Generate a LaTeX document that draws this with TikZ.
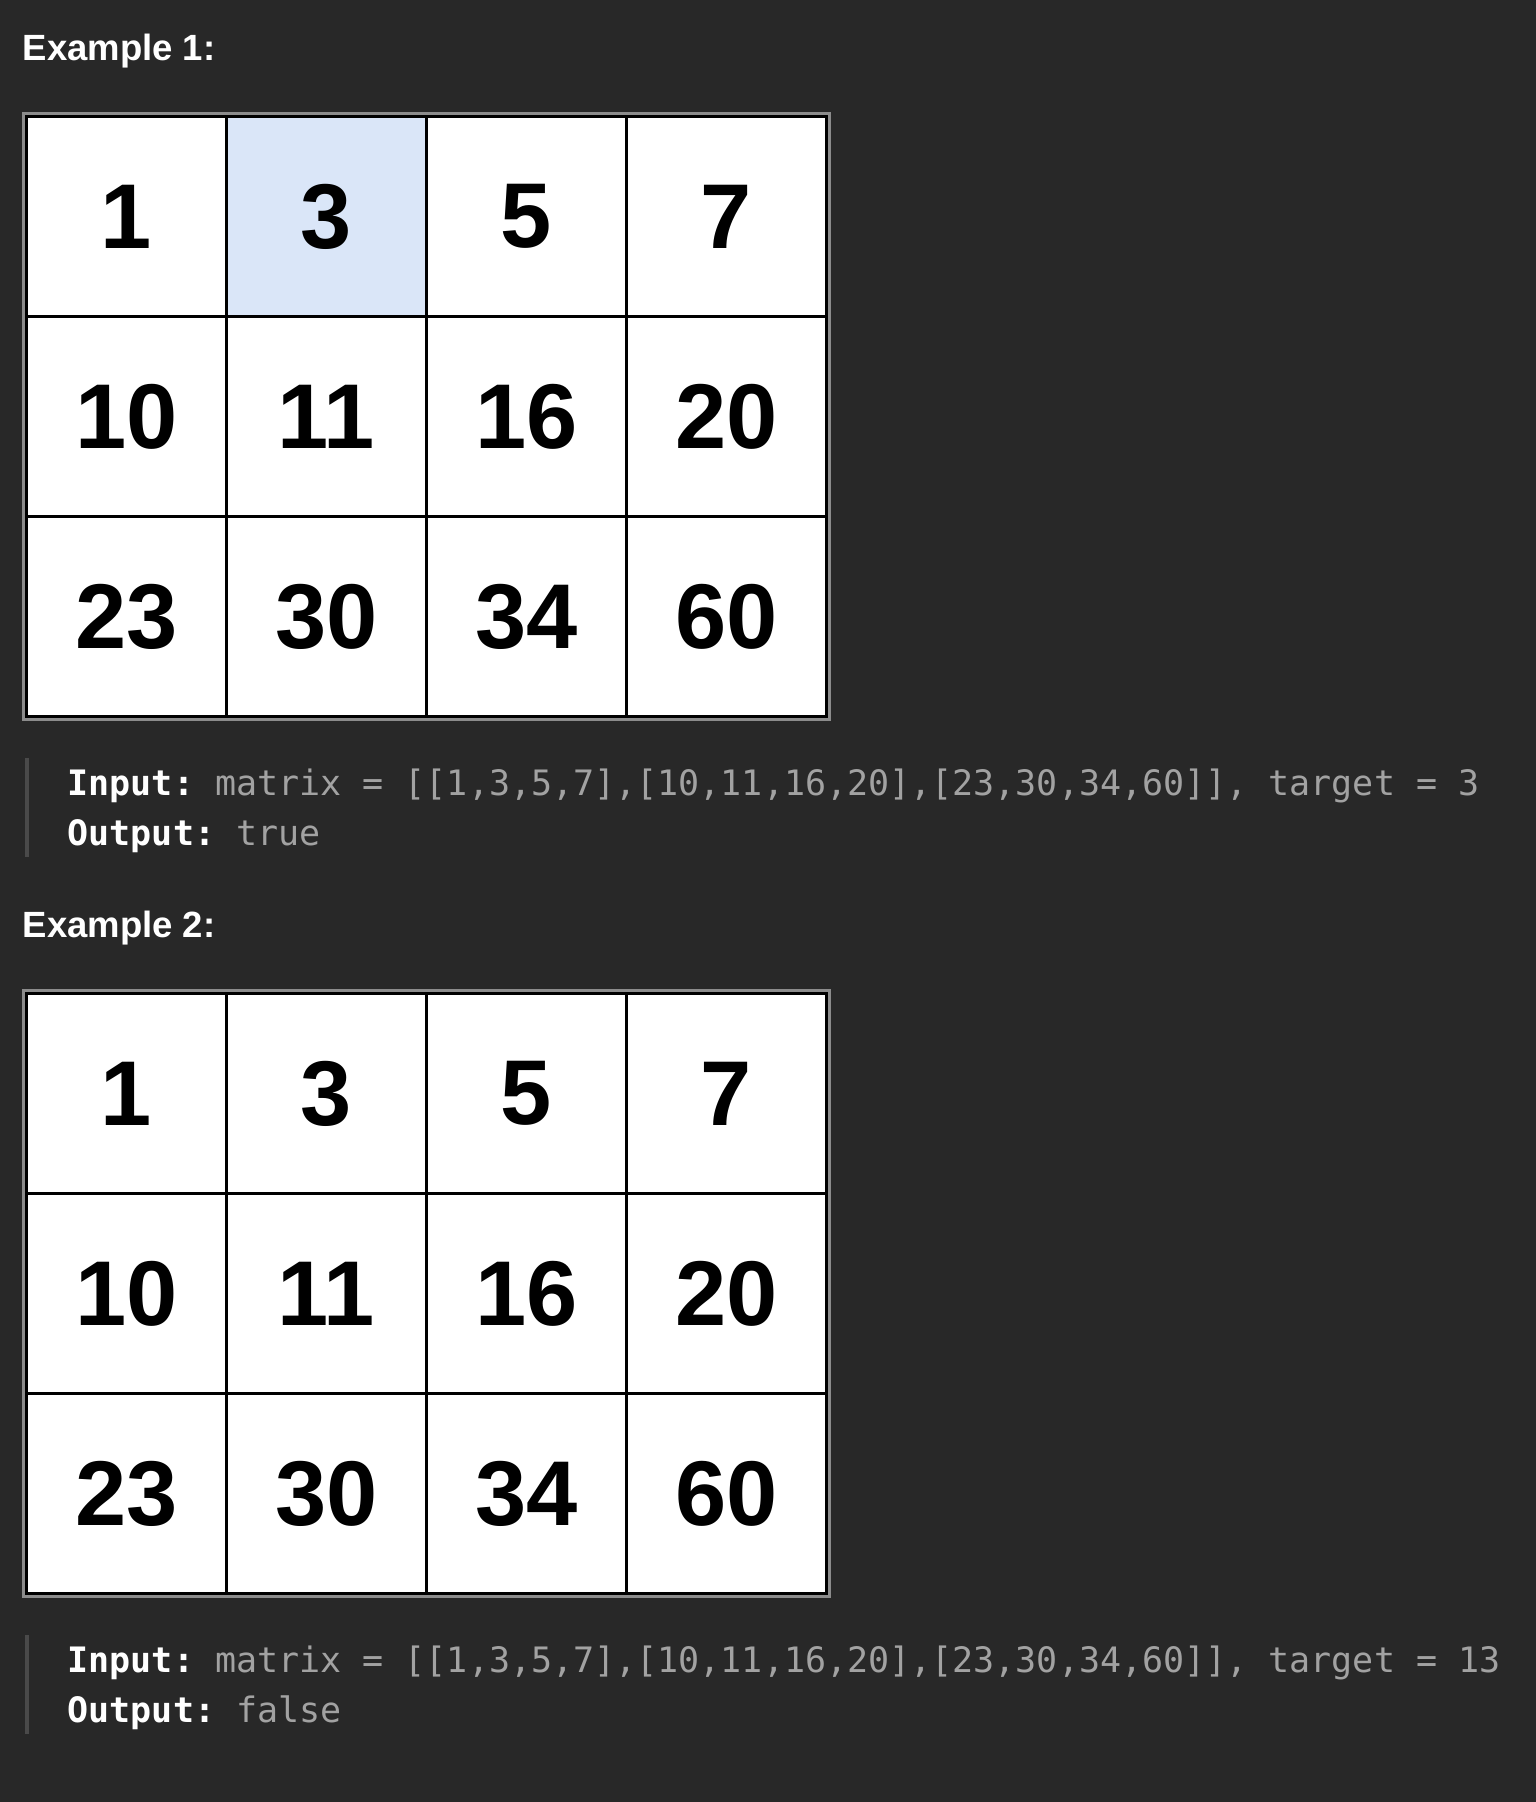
\documentclass[tikz,border=0pt]{standalone}
\usepackage{fontspec}
\setmainfont{Liberation Sans}
\setmonofont{DejaVu Sans Mono}
\definecolor{bg}{HTML}{282828}
\definecolor{hl}{HTML}{DAE6F8}
\definecolor{frame}{HTML}{8C8C8C}
\definecolor{valgray}{HTML}{A2A2A2}
\definecolor{barc}{HTML}{4A4A4A}
\begin{document}
\begin{tikzpicture}[x=1pt,y=-1pt,
  cell/.style={draw=black, line width=3.6pt, fill=white, minimum size=200pt,
    inner sep=0pt, outer sep=0pt, text=black,
    font=\fontsize{92}{92}\selectfont\bfseries},
  hlcell/.style={cell, fill=hl},
  title/.style={anchor=base west, inner sep=0pt, text=white,
    font=\fontsize{36.5}{36.5}\selectfont\bfseries},
  codeline/.style={anchor=base west, inner sep=0pt, text=valgray,
    font=\fontsize{35}{35}\selectfont\ttfamily},
  outerframe/.style={draw=frame, line width=2.4pt},
  quotebar/.style={fill=barc, draw=none}]
\useasboundingbox[fill=bg] (0,0) rectangle (1536,1802);

% ---------- Example 1 ----------
\node[title] (t1) at (22.5,60) {Example 1:};
\foreach \v [count=\c from 0] in {1,3,5,7}{
  \ifnum\c=1
    \node[hlcell] (ga-0-\c) at (126.5+200*\c,216.5) {\v};
  \else
    \node[cell] (ga-0-\c) at (126.5+200*\c,216.5) {\v};
  \fi}
\foreach \v [count=\c from 0] in {10,11,16,20}
  \node[cell] (ga-1-\c) at (126.5+200*\c,416.5) {\v};
\foreach \v [count=\c from 0] in {23,30,34,60}
  \node[cell] (ga-2-\c) at (126.5+200*\c,616.5) {\v};
\draw[outerframe] ([shift={(-3,-3)}]ga-0-0.north west) rectangle ([shift={(3,3)}]ga-2-3.south east);

\fill[quotebar] (24.5,758) rectangle (28.5,857);
\node[codeline] (in1) at (67.5,795) {\textcolor{white}{\bfseries Input:} matrix = [[1,3,5,7],[10,11,16,20],[23,30,34,60]], target = 3};
\node[codeline] (out1) at (67.5,845) {\textcolor{white}{\bfseries Output:} true};

% ---------- Example 2 ----------
\node[title] (t2) at (22.5,937) {Example 2:};
\foreach \v [count=\c from 0] in {1,3,5,7}
  \node[cell] (gb-0-\c) at (126.5+200*\c,1093.5) {\v};
\foreach \v [count=\c from 0] in {10,11,16,20}
  \node[cell] (gb-1-\c) at (126.5+200*\c,1293.5) {\v};
\foreach \v [count=\c from 0] in {23,30,34,60}
  \node[cell] (gb-2-\c) at (126.5+200*\c,1493.5) {\v};
\draw[outerframe] ([shift={(-3,-3)}]gb-0-0.north west) rectangle ([shift={(3,3)}]gb-2-3.south east);

\fill[quotebar] (24.5,1635) rectangle (28.5,1734);
\node[codeline] (in2) at (67.5,1672) {\textcolor{white}{\bfseries Input:} matrix = [[1,3,5,7],[10,11,16,20],[23,30,34,60]], target = 13};
\node[codeline] (out2) at (67.5,1722) {\textcolor{white}{\bfseries Output:} false};
\end{tikzpicture}
\end{document}
